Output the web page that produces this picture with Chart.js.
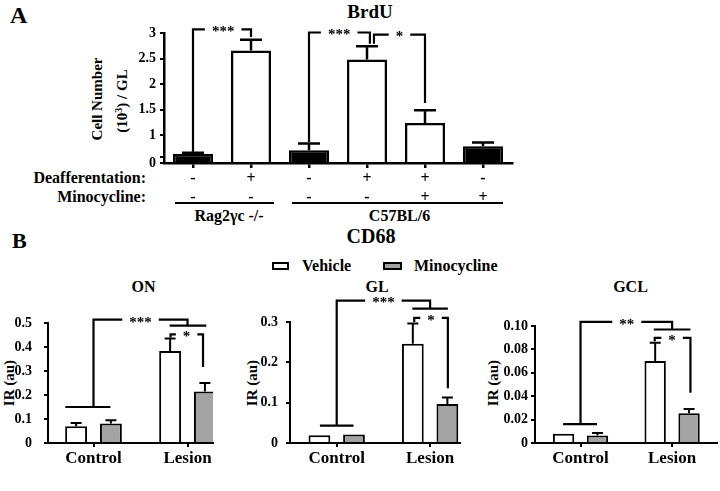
<!DOCTYPE html>
<html>
<head>
<meta charset="utf-8">
<script src="https://cdn.jsdelivr.net/npm/chart.js@4.4.1/dist/chart.umd.min.js"></script>
<style>
  body { margin: 0; background: #fff; }
  #fig { position: relative; width: 720px; height: 491px; overflow: hidden; background: #fff;
         font-family: 'Liberation Serif', 'DejaVu Serif', 'Noto Serif', serif; font-weight: bold; color: #000; }
  canvas { position: absolute; }
  .t { position: absolute; line-height: 1; white-space: nowrap; transform: translate(-50%, -50%); }
  .t.r { transform: translate(-100%, -50%); }
  .t.l { transform: translate(0, -50%); }
  .t.v { transform: translate(-50%, -50%) rotate(-90deg); }
  .rule { position: absolute; height: 2px; background: #000; }
  .box { position: absolute; height: 4px; border: 2px solid #000; }
</style>
</head>
<body>
<div id="fig">
  <div class="t l" style="left:10px;top:15px;font-size:24px">A</div>
  <div class="t" style="left:370px;top:10.5px;font-size:19px">BrdU</div>
  <div class="t v" style="left:96.5px;top:99px;font-size:15px">Cell Number</div>
  <div class="t v" style="left:121.5px;top:101px;font-size:15px">(10<span style="font-size:10px;position:relative;top:-5px">3</span>) / GL</div>
  <div class="t r" style="left:146px;top:178px;font-size:16px">Deafferentation:</div>
  <div class="t r" style="left:146px;top:197px;font-size:16px">Minocycline:</div>
  <div class="rule" style="left:175px;top:202px;width:99px"></div>
  <div class="rule" style="left:292px;top:202px;width:211px"></div>
  <div class="t" style="left:229px;top:216px;font-size:16px">Rag2γc -/-</div>
  <div class="t" style="left:399.5px;top:216px;font-size:16px">C57BL/6</div>

  <div class="t l" style="left:12px;top:241px;font-size:22px">B</div>
  <div class="t" style="left:371px;top:236px;font-size:20px">CD68</div>
  <div class="box" style="left:272px;top:262px;width:13px;background:#fff"></div>
  <div class="t l" style="left:302px;top:266px;font-size:16px">Vehicle</div>
  <div class="box" style="left:383px;top:262px;width:15px;background:#a3a3a3"></div>
  <div class="t l" style="left:414px;top:266px;font-size:16px">Minocycline</div>

  <div class="t" style="left:143.5px;top:287px;font-size:16px">ON</div>
  <div class="t" style="left:377px;top:287px;font-size:16px">GL</div>
  <div class="t" style="left:630.5px;top:287px;font-size:16px">GCL</div>
  <div class="t v" style="left:9px;top:383px;font-size:15px">IR (au)</div>
  <div class="t v" style="left:252px;top:383px;font-size:15px">IR (au)</div>
  <div class="t v" style="left:492.5px;top:383px;font-size:15px">IR (au)</div>

  <canvas id="brdu" width="720" height="210" style="left:0;top:0"></canvas>
  <canvas id="on" width="240" height="196" style="left:0;top:295px"></canvas>
  <canvas id="gl" width="240" height="196" style="left:240px;top:295px"></canvas>
  <canvas id="gcl" width="240" height="196" style="left:480px;top:295px"></canvas>
</div>

<script>
// ---- Panel A: BrdU ----
const deafferentation = ['-', '+', '-', '+', '+', '-'];
const minocyclineA = ['-', '-', '-', '-', '+', '+'];
const brduValues = [0.64, 2.66, 0.71, 2.48, 1.24, 0.785];
const brduErrors = [0.02, 0.21, 0.13, 0.26, 0.25, 0.075];
// the axis in the figure is broken: "0" sits just under the 0.5 tick
const brduTicks = [0.46, 0.58, 1, 1.5, 2, 2.5, 3];
const brduTickLabels = ['0', '', '1', '1.5', '2', '2.5', '3'];

// ---- Panel B: CD68 ----
const cd68Groups = ['Control', 'Lesion'];
const onVehicle = [0.07, 0.383];
const onVehicleErr = [0.013, 0.052];
const onMino = [0.081, 0.215];
const onMinoErr = [0.014, 0.035];
const glVehicle = [0.019, 0.246];
const glVehicleErr = [0, 0.05];
const glMino = [0.021, 0.097];
const glMinoErr = [0, 0.016];
const gclVehicle = [0.0079, 0.070];
const gclVehicleErr = [0, 0.0156];
const gclMino = [0.0065, 0.0255];
const gclMinoErr = [0.002, 0.0035];

// significance brackets, in axis units (category index / value)
const bracketSets = {
  brdu: [
    { lines: [[[0, 0.67], [0, 3.07], [1, 3.07], [1, 2.92]]], label: '***', at: [0.52, 3.07] },
    { lines: [[[2, 0.87], [2, 3.01], [3.05, 3.01], [3.05, 2.79]]], label: '***', at: [2.52, 3.01] },
    { lines: [[[3.12, 2.79], [3.12, 2.97], [4, 2.97], [4, 1.63]]], label: '*', at: [3.56, 2.97] }
  ],
  on: [
    { lines: [[[-0.30, 0.15], [0.18, 0.15]], [[0, 0.15], [0, 0.514], [1, 0.514], [1, 0.489]], [[0.81, 0.489], [1.2, 0.489]]], label: '***', at: [0.5, 0.514] },
    { lines: [[[0.82, 0.44], [0.82, 0.453], [1.165, 0.453], [1.165, 0.317]]], label: '*', at: [0.99, 0.453] }
  ],
  gl: [
    { lines: [[[-0.18, 0.043], [0.18, 0.043]], [[0, 0.043], [0, 0.353], [1, 0.353], [1, 0.333]], [[0.81, 0.333], [1.19, 0.333]]], label: '***', at: [0.5, 0.353] },
    { lines: [[[0.83, 0.30], [0.83, 0.31], [1.19, 0.31], [1.19, 0.136]]], label: '*', at: [1.01, 0.31] }
  ],
  gcl: [
    { lines: [[[-0.19, 0.0162], [0.18, 0.0162]], [[0, 0.0162], [0, 0.1035], [1, 0.1035], [1, 0.097]], [[0.8, 0.097], [1.2, 0.097]]], label: '**', at: [0.505, 0.1035] },
    { lines: [[[0.81, 0.087], [0.81, 0.0899], [1.2, 0.0899], [1.2, 0.043]]], label: '*', at: [1.0, 0.0899] }
  ]
};

const FONT = "'Liberation Serif', 'DejaVu Serif', 'Noto Serif', serif";
Chart.defaults.color = '#000';
Chart.defaults.font.family = FONT;
Chart.defaults.font.weight = 'bold';

// upward error bars with a cap
const errorBars = {
  id: 'errorBars',
  afterDatasetsDraw(chart, args, opts) {
    const ctx = chart.ctx;
    const y = chart.scales.y;
    chart.data.datasets.forEach((ds, i) => {
      const meta = chart.getDatasetMeta(i);
      meta.data.forEach((bar, j) => {
        const err = ds.errors[j];
        if (!err) return;
        const val = meta.controller.getParsed(j).y;
        const top = y.getPixelForValue(val + err);
        ctx.save();
        ctx.strokeStyle = '#000';
        ctx.lineWidth = opts.width;
        ctx.beginPath();
        ctx.moveTo(bar.x, bar.y);
        ctx.lineTo(bar.x, top);
        ctx.moveTo(bar.x - opts.cap / 2, top);
        ctx.lineTo(bar.x + opts.cap / 2, top);
        ctx.stroke();
        ctx.restore();
      });
    });
  }
};

const brackets = {
  id: 'brackets',
  afterDraw(chart) {
    const items = bracketSets[chart.canvas.id] || [];
    const { ctx, scales: { x, y } } = chart;
    ctx.save();
    ctx.strokeStyle = '#000';
    ctx.lineWidth = 2.2;
    items.forEach(b => {
      b.lines.forEach(line => {
        ctx.beginPath();
        line.forEach(([vx, vy], k) => {
          const px = x.getPixelForValue(vx), py = y.getPixelForValue(vy);
          if (k) ctx.lineTo(px, py); else ctx.moveTo(px, py);
        });
        ctx.stroke();
      });
      const lx = x.getPixelForValue(b.at[0]);
      const ly = y.getPixelForValue(b.at[1]);
      ctx.font = 'bold 15px ' + FONT;
      const w = ctx.measureText(b.label).width + 14;
      ctx.fillStyle = '#fff';
      ctx.fillRect(lx - w / 2, ly - 4, w, 8);
      ctx.fillStyle = '#000';
      ctx.textAlign = 'center';
      ctx.textBaseline = 'middle';
      ctx.fillText(b.label, lx, ly + 3);
    });
    ctx.restore();
  }
};

// Panel A
new Chart(document.getElementById('brdu'), {
  type: 'bar',
  data: {
    labels: deafferentation.map((d, i) => [d, minocyclineA[i]]),
    datasets: [{
      data: brduValues,
      errors: brduErrors,
      backgroundColor: deafferentation.map(d => d === '+' ? '#fff' : '#000'),
      borderColor: '#000',
      borderWidth: 2.5,
      barPercentage: 0.69,
      categoryPercentage: 1,
      base: brduTicks[0]
    }]
  },
  options: {
    responsive: false,
    animation: false,
    layout: { padding: { top: 33, right: 208, left: 0, bottom: 0 } },
    plugins: {
      legend: { display: false },
      tooltip: { enabled: false },
      errorBars: { width: 2.5, cap: 22 }
    },
    scales: {
      x: {
        grid: { drawOnChartArea: false, offset: false, color: '#000', lineWidth: 2.5, tickLength: 5 },
        border: { color: '#000', width: 2.5 },
        ticks: { font: { size: 16, lineHeight: 1.1875 }, padding: 1, maxRotation: 0, autoSkip: false },
        afterFit: s => { s.height = 47; }
      },
      y: {
        min: brduTicks[0],
        max: brduTicks[brduTicks.length - 1],
        afterBuildTicks: s => { s.ticks = brduTicks.map(v => ({ value: v })); },
        ticks: { callback: (v, i) => brduTickLabels[i], font: { size: 14 }, padding: 4 },
        grid: { drawOnChartArea: false, color: '#000', lineWidth: 2, tickLength: 4 },
        border: { color: '#000', width: 2.5 },
        afterFit: s => { s.width = 164; }
      }
    }
  },
  plugins: [errorBars, brackets]
});

// Panel B, three regions
const panels = [
  { id: 'on', vehicle: onVehicle, vehicleErr: onVehicleErr, mino: onMino, minoErr: onMinoErr,
    yMax: 0.5, yStep: 0.1, xMin: -0.484, xMax: 1.271, padTop: 28, padRight: 27, yWidth: 48, tickPad: 12 },
  { id: 'gl', vehicle: glVehicle, vehicleErr: glVehicleErr, mino: glMino, minoErr: glMinoErr,
    yMax: 0.3, yStep: 0.1, xMin: -0.5, xMax: 1.32, padTop: 27, padRight: 20, yWidth: 50, tickPad: 8 },
  { id: 'gcl', vehicle: gclVehicle, vehicleErr: gclVehicleErr, mino: gclMino, minoErr: gclMinoErr,
    yMax: 0.1, yStep: 0.02, xMin: -0.497, xMax: 1.49, padTop: 31, padRight: 3, yWidth: 55, tickPad: 3 }
];

panels.forEach(p => {
  const series = (vals) => vals.map((v, i) => ({ x: i, y: v }));
  new Chart(document.getElementById(p.id), {
    type: 'bar',
    data: {
      datasets: [
        { label: 'Vehicle', data: series(p.vehicle), errors: p.vehicleErr, backgroundColor: '#fff',
          borderColor: '#000', borderWidth: 2, barPercentage: 0.63, categoryPercentage: 0.74 },
        { label: 'Minocycline', data: series(p.mino), errors: p.minoErr, backgroundColor: '#a3a3a3',
          borderColor: '#000', borderWidth: 2, barPercentage: 0.63, categoryPercentage: 0.74 }
      ]
    },
    options: {
      responsive: false,
      animation: false,
      layout: { padding: { top: p.padTop, right: p.padRight, left: 0, bottom: 0 } },
      plugins: {
        legend: { display: false },
        tooltip: { enabled: false },
        errorBars: { width: 2, cap: 11 }
      },
      scales: {
        x: {
          type: 'linear',
          min: p.xMin,
          max: p.xMax,
          offset: false,
          afterBuildTicks: s => { s.ticks = cd68Groups.map((g, i) => ({ value: i })); },
          ticks: { callback: v => cd68Groups[v], font: { size: 17 }, padding: 1, maxRotation: 0 },
          grid: { drawOnChartArea: false, offset: false, color: '#000', lineWidth: 2, tickLength: 4 },
          border: { color: '#000', width: 2 },
          afterFit: s => { s.height = 48; }
        },
        y: {
          min: 0,
          max: p.yMax,
          ticks: { stepSize: p.yStep, font: { size: 14 }, padding: p.tickPad },
          grid: { drawOnChartArea: false, color: '#000', lineWidth: 2, tickLength: 4 },
          border: { color: '#000', width: 2 },
          afterFit: s => { s.width = p.yWidth; }
        }
      }
    },
    plugins: [errorBars, brackets]
  });
});
</script>
</body>
</html>
